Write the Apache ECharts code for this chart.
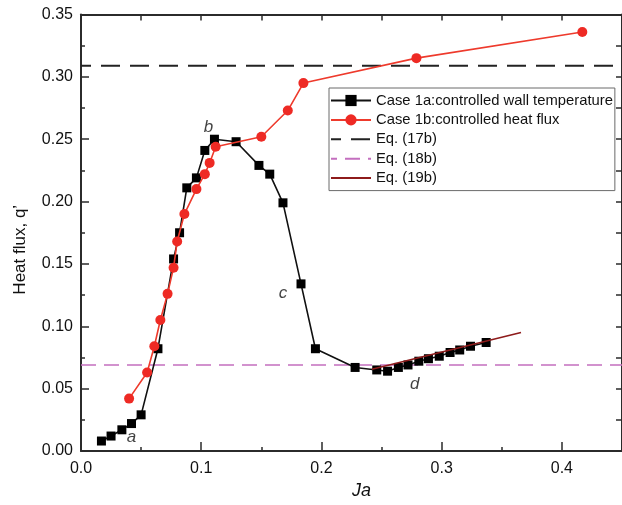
<!DOCTYPE html>
<html>
<head>
<meta charset="utf-8">
<script src="https://cdn.jsdelivr.net/npm/echarts@6/dist/echarts.min.js"></script>
<style>
  html, body { margin: 0; padding: 0; background: #fff; }
  #chart { width: 622px; height: 505px; }
</style>
</head>
<body>
<div id="chart"></div>
<script>
// Case 1a: controlled wall temperature
const caseA_ja = [0.017, 0.025, 0.034, 0.042, 0.050, 0.064, 0.077, 0.082, 0.088, 0.096,
                  0.103, 0.111, 0.129, 0.148, 0.157, 0.168, 0.183, 0.195, 0.228, 0.246,
                  0.255, 0.264, 0.272, 0.281, 0.289, 0.298, 0.307, 0.315, 0.324, 0.337];
const caseA_q  = [0.008, 0.012, 0.017, 0.022, 0.029, 0.082, 0.154, 0.175, 0.211, 0.219,
                  0.241, 0.250, 0.248, 0.229, 0.222, 0.199, 0.134, 0.082, 0.067, 0.065,
                  0.064, 0.067, 0.069, 0.072, 0.074, 0.076, 0.079, 0.081, 0.084, 0.087];

// Case 1b: controlled heat flux
const caseB_ja = [0.040, 0.055, 0.061, 0.066, 0.072, 0.077, 0.080, 0.086, 0.096, 0.103,
                  0.107, 0.112, 0.150, 0.172, 0.185, 0.279, 0.417];
const caseB_q  = [0.042, 0.063, 0.084, 0.105, 0.126, 0.147, 0.168, 0.190, 0.210, 0.222,
                  0.231, 0.244, 0.252, 0.273, 0.295, 0.315, 0.336];

// Analytical results
const eq17b_ja = [0, 0.45];
const eq17b_q  = [0.309, 0.309];
const eq18b_ja = [0, 0.45];
const eq18b_q  = [0.069, 0.069];
const eq19b_ja = [0.242, 0.366];
const eq19b_q  = [0.0655, 0.095];

// Regime labels
const regime_names = ['a', 'b', 'c', 'd'];
const regime_ja    = [0.042, 0.106, 0.168, 0.2775];
const regime_q     = [0.011, 0.2597, 0.1265, 0.0534];

const seriesNames = [
  'Case 1a:controlled wall temperature',
  'Case 1b:controlled heat flux',
  'Eq. (17b)',
  'Eq. (18b)',
  'Eq. (19b)'
];
// curves drawn as plain lines: hide the marker in their legend icons
const plainLines = ['Eq. (17b)', 'Eq. (18b)', 'Eq. (19b)'];

const zip = (xs, ys) => xs.map((x, i) => [x, ys[i]]);
const FONT = '"Liberation Sans", Arial, Helvetica, sans-serif';
const AXIS_COLOR = '#2b2b2b';

const chart = echarts.init(document.getElementById('chart'), null, { renderer: 'canvas' });

chart.setOption({
  animation: false,
  backgroundColor: '#ffffff',
  textStyle: { fontFamily: FONT },
  grid: { left: 81, top: 14.5, bottom: 54, right: -3, containLabel: false },
  legend: {
    data: seriesNames.map(n => plainLines.includes(n)
      ? { name: n, itemStyle: { opacity: 0 } }
      : { name: n }),
    orient: 'vertical',
    left: 329,
    top: 88,
    padding: [5, 2, 5, 1],
    itemWidth: 40,
    itemHeight: 14,
    itemGap: 4.4,
    backgroundColor: '#ffffff',
    borderColor: '#6a6a6a',
    borderWidth: 1,
    textStyle: { fontFamily: FONT, fontSize: 14.8, color: '#111' }
  },
  xAxis: [{
    type: 'value',
    min: 0, max: 0.45, interval: 0.1,
    name: 'Ja',
    nameLocation: 'middle',
    nameGap: 30,
    nameTextStyle: { fontFamily: FONT, fontSize: 18, fontStyle: 'italic', color: '#111', padding: [0, 0, 0, 20] },
    axisLine: { lineStyle: { color: AXIS_COLOR, width: 2 } },
    axisTick: { inside: true, length: 9, lineStyle: { color: AXIS_COLOR, width: 1.5 } },
    minorTick: { show: true, splitNumber: 2, length: 4, lineStyle: { color: AXIS_COLOR, width: 1.5 } },
    axisLabel: {
      margin: 10, fontSize: 16, color: '#111', fontFamily: FONT, showMaxLabel: false,
      formatter: v => (Math.abs(v * 10 - Math.round(v * 10)) < 1e-6 ? v.toFixed(1) : '')
    },
    splitLine: { show: false }
  }, {
    type: 'value',
    position: 'top',
    min: 0, max: 0.45, interval: 0.05,
    axisLine: { show: true, onZero: false, lineStyle: { color: AXIS_COLOR, width: 2 } },
    axisTick: { inside: true, length: 6, lineStyle: { color: AXIS_COLOR, width: 1.5 } },
    axisLabel: { show: false },
    splitLine: { show: false }
  }],
  yAxis: [{
    type: 'value',
    min: 0, max: 0.35, interval: 0.05,
    name: 'Heat flux, q\u2019',
    nameLocation: 'middle',
    nameGap: 52,
    nameTextStyle: { fontFamily: FONT, fontSize: 17, color: '#111', padding: [0, 34, 0, 0] },
    axisLine: { show: true, lineStyle: { color: AXIS_COLOR, width: 2 } },
    axisTick: { show: true, inside: true, length: 8, lineStyle: { color: AXIS_COLOR, width: 1.5 } },
    minorTick: { show: true, splitNumber: 2, length: 4, lineStyle: { color: AXIS_COLOR, width: 1.5 } },
    axisLabel: { margin: 8, fontSize: 16, color: '#111', fontFamily: FONT, formatter: v => v.toFixed(2) },
    splitLine: { show: false }
  }, {
    type: 'value',
    position: 'right',
    min: 0, max: 0.35, interval: 0.025,
    axisLine: { show: true, onZero: false, lineStyle: { color: AXIS_COLOR, width: 2 } },
    axisTick: { show: true, inside: true, length: 6, lineStyle: { color: AXIS_COLOR, width: 1.5 } },
    axisLabel: { show: false },
    splitLine: { show: false }
  }],
  series: [
    {
      name: 'Eq. (18b)',
      type: 'line',
      data: zip(eq18b_ja, eq18b_q),
      symbol: 'none',
      lineStyle: { color: '#c46fbf', width: 1.6, type: [15, 8] },
      itemStyle: { color: '#c46fbf' },
      z: 1
    },
    {
      name: 'Eq. (17b)',
      type: 'line',
      data: zip(eq17b_ja, eq17b_q),
      symbol: 'none',
      lineStyle: { color: '#222222', width: 2, type: [19, 10], dashOffset: 9 },
      itemStyle: { color: '#222222' },
      z: 1
    },
    {
      name: 'Case 1a:controlled wall temperature',
      type: 'line',
      data: zip(caseA_ja, caseA_q),
      symbol: 'rect',
      symbolSize: 9,
      lineStyle: { color: '#111111', width: 1.6 },
      itemStyle: { color: '#000000' },
      z: 3
    },
    {
      name: 'Case 1b:controlled heat flux',
      type: 'line',
      data: zip(caseB_ja, caseB_q),
      symbol: 'circle',
      symbolSize: 10,
      lineStyle: { color: '#ee3a2c', width: 1.6 },
      itemStyle: { color: '#ee2a24' },
      z: 4
    },
    {
      name: 'Eq. (19b)',
      type: 'line',
      data: zip(eq19b_ja, eq19b_q),
      symbol: 'none',
      lineStyle: { color: '#8e1b1b', width: 1.6 },
      itemStyle: { color: '#8e1b1b' },
      z: 5
    },
    {
      name: 'regimes',
      type: 'scatter',
      data: regime_ja.map((x, i) => [x, regime_q[i], regime_names[i]]),
      symbolSize: 0,
      silent: true,
      label: {
        show: true,
        position: 'inside',
        formatter: p => p.data[2],
        fontFamily: FONT,
        fontSize: 17,
        fontStyle: 'italic',
        color: '#111'
      },
      z: 6
    }
  ]
});
</script>
</body>
</html>
